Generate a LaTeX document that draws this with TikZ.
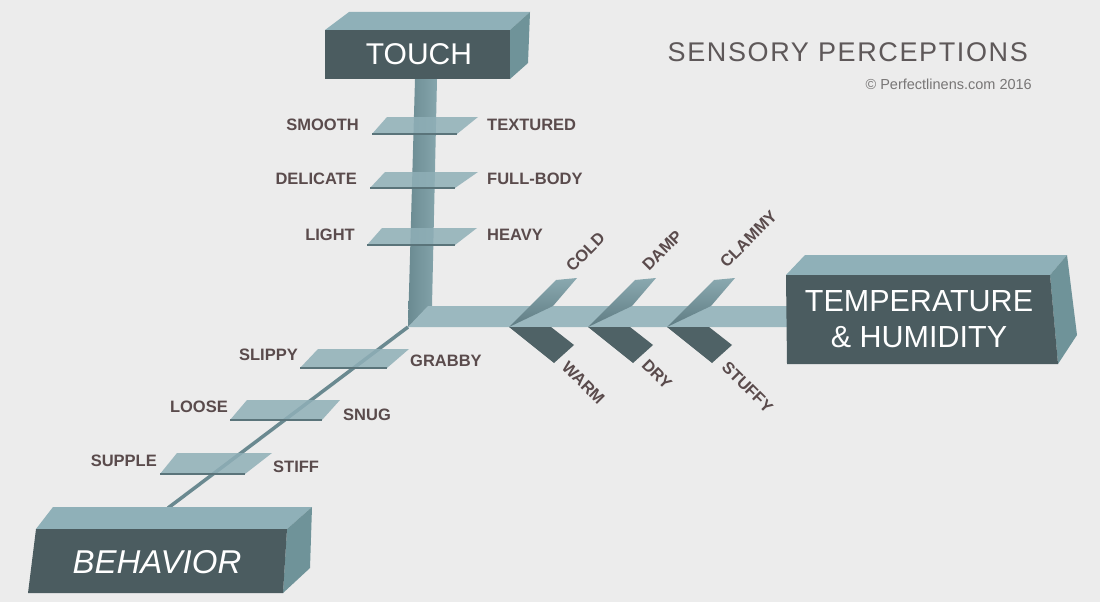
\documentclass[tikz,border=0pt]{standalone}
\usepackage{fontspec}
\setmainfont{Liberation Sans}
\definecolor{pagebg}{HTML}{ECECEC}
\definecolor{frontc}{HTML}{4B5C60}
\definecolor{topc}{HTML}{8FB0B8}
\definecolor{sidec}{HTML}{6F9399}
\definecolor{barc}{HTML}{9BB8BF}
\definecolor{stemdark}{HTML}{6A8A91}
\definecolor{stemlight}{HTML}{86A6AD}
\definecolor{shelfc}{HTML}{8FAFB7}
\definecolor{shelfedgec}{HTML}{5A747A}
\definecolor{linec}{HTML}{6A8990}
\definecolor{flapuptop}{HTML}{8AA9B0}
\definecolor{flapupbot}{HTML}{5F7C83}
\definecolor{flaplow}{HTML}{4F6266}
\definecolor{labc}{HTML}{5A4B4C}
\definecolor{titlec}{HTML}{5E5859}
\definecolor{copyc}{HTML}{787676}
\begin{document}
\begin{tikzpicture}[x=1pt,y=-1pt,
  shelf/.style={fill=shelfc, fill opacity=0.85},
  shelfedge/.style={draw=shelfedgec, line width=1.5pt},
  lab/.style={font=\bfseries\fontsize{16.5}{18}\selectfont, text=labc, inner sep=0pt},
  boxtext/.style={text=white, inner sep=0pt, align=center},
  upflap/.style={top color=flapuptop, bottom color=flapupbot},
  lowflap/.style={fill=flaplow}]
\fill[pagebg] (0,0) rectangle (1100,602);
\useasboundingbox (0,0) rectangle (1100,602);

% title
\node[anchor=east, text=titlec, inner sep=0pt, font=\fontsize{27}{30}\selectfont\addfontfeature{LetterSpace=6}] (title) at (1028,52) {SENSORY PERCEPTIONS};
\node[anchor=east, text=copyc, inner sep=0pt, font=\fontsize{14.5}{16}\selectfont] (copy) at (1032,84) {© Perfectlinens.com 2016};

% stem and bar
\coordinate (corner) at (408,327);
\coordinate (behtop) at (168,508);
\shade[left color=stemdark, right color=stemlight] (415,79) -- (437,79) -- (432,306) -- (corner) -- cycle;
\fill[barc] (428,306) -- (800,306) -- (800,327) -- (corner) -- cycle;
\draw[line width=3.5pt, linec] (corner) -- (behtop);

% TOUCH box
\fill[topc] (325,30) -- (349,12) -- (530,12) -- (510,30) -- cycle;
\fill[sidec] (510,30) -- (530,12) -- (528,63) -- (510,79) -- cycle;
\fill[frontc] (325,30) rectangle (510,79);
\node[boxtext, font=\fontsize{30}{36}\selectfont] (touch) at (419,54) {TOUCH};

% TEMPERATURE box
\fill[topc] (786,275) -- (805,255) -- (1067,255) -- (1050,275) -- cycle;
\fill[sidec] (1050,275) -- (1067,255) -- (1077,335) -- (1058,364) -- cycle;
\fill[frontc] (786,275) -- (1050,275) -- (1058,364) -- (787,364) -- cycle;
\node[boxtext, font=\fontsize{30.5}{36}\selectfont] (temp) at (919,319) {TEMPERATURE\\\& HUMIDITY};

% BEHAVIOR box
\fill[topc] (36,529) -- (53,507) -- (312,507) -- (287,529) -- cycle;
\fill[sidec] (287,529) -- (312,507) -- (310,568) -- (283,593) -- cycle;
\fill[frontc] (36,529) -- (287,529) -- (283,593) -- (28,593) -- cycle;
\node[boxtext, font=\itshape\fontsize{33}{36}\selectfont] (behav) at (157,562) {BEHAVIOR};

% touch shelves
\fill[shelf] (372,134) -- (457,134) -- (478,117) -- (387,117) -- cycle;
\draw[shelfedge] (372,134) -- (457,134);
\fill[shelf] (370,188) -- (455,188) -- (478,172) -- (385,172) -- cycle;
\draw[shelfedge] (370,188) -- (455,188);
\fill[shelf] (367,245) -- (455,245) -- (477,228) -- (382,228) -- cycle;
\draw[shelfedge] (367,245) -- (455,245);

% behavior shelves
\fill[shelf] (300,368) -- (387,368) -- (409,349) -- (318,349) -- cycle;
\draw[shelfedge] (300,368) -- (387,368);
\fill[shelf] (230,420) -- (322,420) -- (340,400) -- (247,400) -- cycle;
\draw[shelfedge] (230,420) -- (322,420);
\fill[shelf] (160,474) -- (245,474) -- (272,453) -- (177,453) -- cycle;
\draw[shelfedge] (160,474) -- (245,474);

% chevrons
\foreach \v in {509,588,667} {
  \shade[upflap] (\v,327) -- (\v+47,280) -- (\v+68,278) -- (\v+44,306) -- cycle;
  \fill[lowflap] (\v,327) -- (\v+42,327) -- (\v+65,345) -- (\v+45,363) -- cycle;
}

% labels
\node[lab, anchor=east] (smooth) at (359,125) {SMOOTH};
\node[lab, anchor=west] (textured) at (487,125) {TEXTURED};
\node[lab, anchor=east] (delicate) at (357,179) {DELICATE};
\node[lab, anchor=west] (fullbody) at (487,179) {FULL-BODY};
\node[lab, anchor=east] (light) at (355,235) {LIGHT};
\node[lab, anchor=west] (heavy) at (487,235) {HEAVY};

\node[lab, anchor=east] (slippy) at (298,355) {SLIPPY};
\node[lab, anchor=west] (grabby) at (410,361) {GRABBY};
\node[lab, anchor=east] (loose) at (228,407) {LOOSE};
\node[lab, anchor=west] (snug) at (343,415) {SNUG};
\node[lab, anchor=east] (supple) at (157,461) {SUPPLE};
\node[lab, anchor=west] (stiff) at (273,467) {STIFF};

\node[lab, rotate=45, anchor=south west] (cold) at (573,273) {COLD};
\node[lab, rotate=45, anchor=south west] (damp) at (649,272) {DAMP};
\node[lab, rotate=45, anchor=south west] (clammy) at (727,269) {CLAMMY};
\node[lab, rotate=-45, anchor=north west] (warm) at (569,360) {WARM};
\node[lab, rotate=-45, anchor=north west] (dry) at (649,358) {DRY};
\node[lab, rotate=-45, anchor=north west] (stuffy) at (729,360) {STUFFY};
\end{tikzpicture}
\end{document}
